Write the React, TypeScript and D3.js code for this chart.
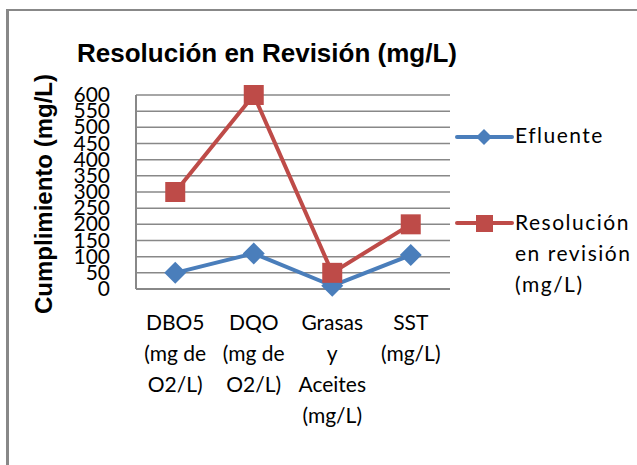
import React from "react";
import * as d3 from "d3";

const categories = [
  ["DBO5", "(mg de", "O2/L)"],
  ["DQO", "(mg de", "O2/L)"],
  ["Grasas", "y", "Aceites", "(mg/L)"],
  ["SST", "(mg/L)"],
];
const efluente = [50, 110, 10, 105];
const resolucion = [300, 600, 50, 200];
const yTicks = d3.range(0, 650, 50);
const seriesNames = ["Efluente", ["Resolución", "en revisión", "(mg/L)"]];

const W = 637;
const H = 465;
const plot = { left: 136, right: 450, top: 95, bottom: 289 };
const BLUE = "#4A7EBB";
const RED = "#BE4B48";
const GRID = "#888888";
const FONT = "Lato, 'Open Sans', sans-serif";

export default function App() {
  const x = d3
    .scaleBand<number>()
    .domain(d3.range(categories.length))
    .range([plot.left, plot.right]);
  const cx = (i: number) => (x(i) as number) + x.bandwidth() / 2;
  const y = d3.scaleLinear().domain([0, 600]).range([plot.bottom, plot.top]);
  const line = d3
    .line<number>()
    .x((_, i) => cx(i))
    .y((d) => y(d));

  const diamond = (px: number, py: number, r: number) =>
    `M${px},${py - r}L${px + r},${py}L${px},${py + r}L${px - r},${py}Z`;

  return (
    <svg
      width={W}
      height={H}
      style={{ position: "absolute", left: 0, top: 0, background: "#fff" }}
    >
      {/* outer chart frame */}
      <line x1={7.5} x2={W} y1={10} y2={10} stroke={GRID} strokeWidth={2} />
      <line x1={7.5} x2={7.5} y1={9} y2={H} stroke={GRID} strokeWidth={3} />

      <text
        x={267}
        y={62}
        textAnchor="middle"
        fontFamily="'Liberation Sans', Arial, sans-serif"
        fontWeight="bold"
        fontSize={26}
        fill="#000"
      >
        Resolución en Revisión (mg/L)
      </text>

      <text
        transform={`translate(52,194) rotate(-90)`}
        textAnchor="middle"
        fontFamily="'Liberation Sans', Arial, sans-serif"
        fontWeight="bold"
        fontSize={24}
        fill="#000"
      >
        Cumplimiento (mg/L)
      </text>

      {/* gridlines */}
      {yTicks.map((t) => (
        <line
          key={t}
          x1={plot.left}
          x2={plot.right}
          y1={y(t)}
          y2={y(t)}
          stroke={GRID}
          strokeWidth={1.5}
        />
      ))}
      <line
        x1={plot.left}
        x2={plot.left}
        y1={plot.top}
        y2={plot.bottom}
        stroke={GRID}
        strokeWidth={2}
      />
      <line
        x1={plot.left}
        x2={plot.right}
        y1={plot.bottom}
        y2={plot.bottom}
        stroke={GRID}
        strokeWidth={2}
      />

      {/* y tick labels */}
      {yTicks.map((t) => (
        <text
          key={t}
          x={110}
          y={y(t) + 7}
          textAnchor="end"
          fontFamily={FONT}
          fontSize={21}
          fill="#000"
        >
          {t}
        </text>
      ))}

      {/* category labels */}
      {categories.map((lines, i) => (
        <text
          key={i}
          textAnchor="middle"
          fontFamily={FONT}
          fontSize={21}
          fill="#000"
        >
          {lines.map((l, j) => (
            <tspan key={j} x={cx(i)} y={330 + j * 31}>
              {l}
            </tspan>
          ))}
        </text>
      ))}

      {/* series */}
      <path
        d={line(resolucion) as string}
        fill="none"
        stroke={RED}
        strokeWidth={4}
        strokeLinejoin="round"
      />
      <path
        d={line(efluente) as string}
        fill="none"
        stroke={BLUE}
        strokeWidth={4}
        strokeLinejoin="round"
      />
      {efluente.map((d, i) => (
        <path key={i} d={diamond(cx(i), y(d), 11)} fill={BLUE} />
      ))}
      {resolucion.map((d, i) => (
        <rect
          key={i}
          x={cx(i) - 10}
          y={y(d) - 10}
          width={20}
          height={20}
          fill={RED}
        />
      ))}

      {/* legend */}
      <line x1={457} x2={512} y1={137} y2={137} stroke={BLUE} strokeWidth={4} strokeLinecap="round" />
      <path d={diamond(484, 137, 8)} fill={BLUE} />
      <text x={515} y={143} fontFamily={FONT} fontSize={21} letterSpacing={1.5} fill="#000">
        {seriesNames[0] as string}
      </text>
      <line x1={457} x2={512} y1={223} y2={223} stroke={RED} strokeWidth={4} strokeLinecap="round" />
      <rect x={476} y={215} width={17} height={17} fill={RED} />
      <text fontFamily={FONT} fontSize={21} letterSpacing={1.5} fill="#000">
        {(seriesNames[1] as string[]).map((l, j) => (
          <tspan key={j} x={515} y={230 + j * 31}>
            {l}
          </tspan>
        ))}
      </text>
    </svg>
  );
}
